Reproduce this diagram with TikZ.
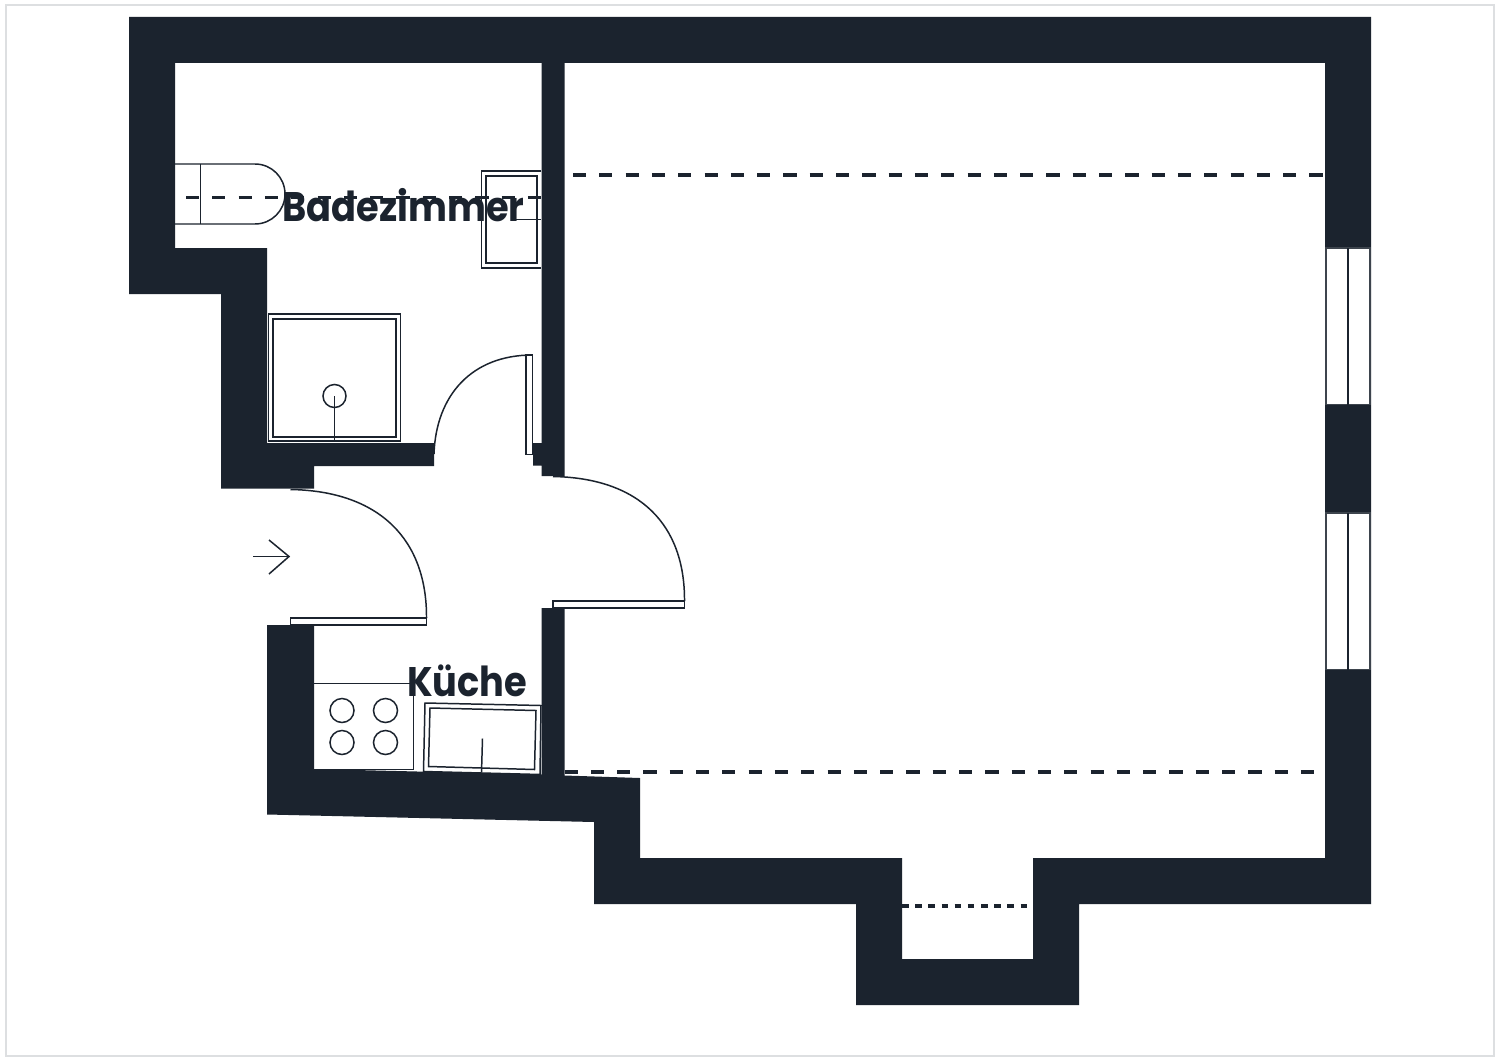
\documentclass[tikz,border=0pt]{standalone}
\usepackage{fontspec}
\newfontfamily\labelfont[FakeStretch=0.89]{Poppins}
\definecolor{wallc}{HTML}{1B232E}
\definecolor{framec}{HTML}{DDDFE1}
\tikzset{
  x=0.02cm,y=-0.02cm,
  wall/.style={fill=wallc,draw=none},
  fixture/.style={draw=wallc,line width=0.85pt,fill=none,line join=miter},
  whitefix/.style={draw=wallc,line width=0.85pt,fill=white},
  windowbox/.style={draw=wallc!85!white,line width=0.6pt,fill=white},
  longdash/.style={draw=wallc,line width=1.8pt,dash pattern=on 7.5pt off 7.47pt},
  shortdash/.style={draw=wallc,line width=1.9pt,dash pattern=on 3.75pt off 3.75pt},
  roomlabel/.style={text=wallc,font=\labelfont\bfseries\fontsize{23.5}{24}\selectfont,inner sep=0pt,anchor=base west},
}
\begin{document}
\begin{tikzpicture}
\useasboundingbox (0,0) rectangle (1500,1061);
\fill[white] (0,0) rectangle (1500,1061);
\draw[framec,line width=0.6pt] (6,5) rectangle (1494,1056);
% walls
\path[wall] (129,17) -- (1371,17) -- (1371,904) -- (1079,904) -- (1079,1005) -- (856,1005) -- (856,904) -- (594,904) -- (594,822) -- (267,814.5) -- (267,625) -- (314,625) -- (314,769) -- (541.5,774.5) -- (541.5,608) -- (564.5,608) -- (564.5,775.5) -- (640,778) -- (640,858) -- (902,858) -- (902,959) -- (1033,959) -- (1033,858) -- (1325,858) -- (1325,63) -- (564.5,63) -- (564.5,476) -- (541.5,476) -- (541.5,465.5) -- (533,465.5) -- (533,443) -- (541.5,443) -- (541.5,63) -- (175,63) -- (175,248) -- (267,248) -- (267,443) -- (434,443) -- (434,466) -- (314,466) -- (314,488.5) -- (221,488.5) -- (221,294) -- (129,294) -- cycle;
% windows
\draw[windowbox] (1326,248) rectangle (1370,404.5);
\draw[fixture] (1348,248) -- (1348,404.5);
\draw[windowbox] (1326,513) rectangle (1370,669.5);
\draw[fixture] (1348,513) -- (1348,669.5);
% toilet
\draw[fixture] (175,164) -- (255,164) arc[start angle=-90,end angle=90,radius=30] -- (175,224);
\draw[fixture] (200.5,164) -- (200.5,224);
% wash basin
\draw[fixture] (541,171) -- (481.5,171) -- (481.5,268) -- (541,268);
\draw[fixture] (486,176) rectangle (537,263);
\draw[fixture] (515,219.5) -- (541,219.5);
% shower
\draw[fixture] (268.5,314) rectangle (400.5,441);
\draw[fixture] (273,319) rectangle (396,437);
\draw[fixture] (334.5,396) circle[radius=11.5];
\draw[fixture] (334.5,396) -- (334.5,441);
% doors
\draw[fixture] (526,355) rectangle (532.5,454.5);
\draw[fixture] (434,454) .. controls (436,395) and (472,355) .. (532.5,355);
\draw[whitefix] (290.5,618) rectangle (426.5,625);
\draw[fixture] (290.5,489.5) .. controls (380,491) and (427,540) .. (426.5,618);
\draw[whitefix] (553,601) rectangle (684.5,608);
\draw[fixture] (553,476.5) .. controls (640,478) and (685,525) .. (684.5,601);
% entrance arrow
\coordinate (arrowtail) at (253,556.5);
\coordinate (arrowhead) at (289,556.5);
\draw[fixture] (arrowtail) -- (arrowhead);
\draw[fixture] (269,540) -- (arrowhead) -- (269,574);
% stove
\draw[fixture] (314,683.5) -- (413.5,683.5) -- (413.5,769.5) -- (315,769.5);
\foreach \cx/\cy in {342/710.5,385.5/710.5,342/742.5,385.5/742.5}
  \draw[fixture] (\cx,\cy) circle[radius=12];
% kitchen sink
\draw[fixture] (425,703) -- (541,705.5) -- (540,774.5) -- (423.5,771.5) -- cycle;
\draw[fixture] (430,708) -- (536,710.5) -- (534.5,769.5) -- (428.5,766.5) -- cycle;
\draw[fixture] (482.5,738.5) -- (481.5,772.5);
% slope lines
\draw[longdash] (186,197.5) -- (541,197.5);
\draw[longdash] (573,175) -- (1325,175);
\draw[longdash] (564.5,772) -- (1318,772);
\draw[shortdash] (902,906) -- (1029,906);
% labels
\node[roomlabel] (bad) at (282,221.5) {Badezimmer};
\node[roomlabel] (kueche) at (407,696) {Küche};
\end{tikzpicture}
\end{document}
